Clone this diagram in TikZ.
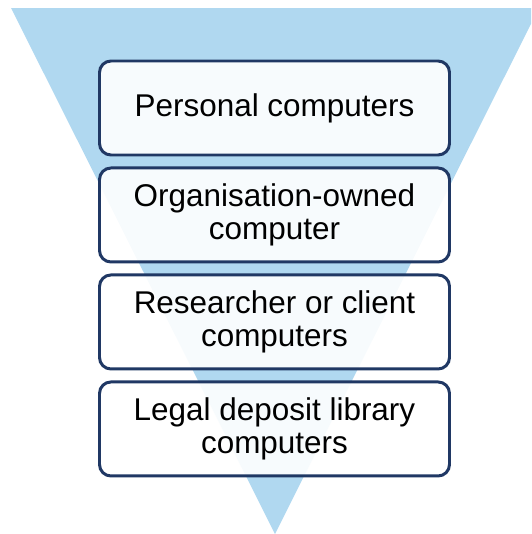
\documentclass[tikz,border=0pt]{standalone}
\usepackage{fontspec}
\setmainfont{Liberation Sans}
\usetikzlibrary{positioning}
\definecolor{funnelblue}{RGB}{176,216,240}
\definecolor{boxnavy}{RGB}{32,56,100}
\begin{document}
\begin{tikzpicture}[every node/.style={font=\fontsize{17.9}{18.8}\selectfont},
    levelbox/.style={draw=boxnavy, line width=1.7pt, fill=white, fill opacity=0.9, text opacity=1, rounded corners=6.5pt, minimum width=7.0cm, minimum height=1.88cm, align=center, inner sep=0pt}]

            \useasboundingbox (0,0) rectangle (10.62,-10.68);
            \clip (0,0) rectangle (10.62,-10.68);

            % Funnel
            \fill[funnelblue] (0.22,-0.16) -- (10.78,-0.16) -- (5.5,-10.68) -- cycle;

            % Nodes
            \node[levelbox] at (5.49,-2.16) (PC) {Personal computers};
            \node[levelbox, below=0.2cm of PC] (OC) {Organisation-owned\\computer};
            \node[levelbox, below=0.2cm of OC] (RC) {Researcher or client\\computers};
            \node[levelbox, below=0.2cm of RC] (LD) {Legal deposit library\\computers};

        \end{tikzpicture}
\end{document}
